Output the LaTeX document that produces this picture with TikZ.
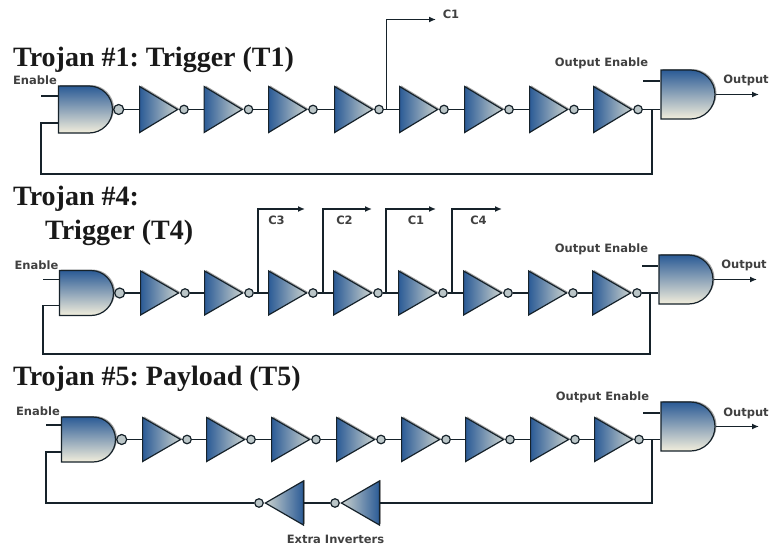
\documentclass[tikz,border=0pt]{standalone}
\usepackage{fontspec}
\setmainfont{Liberation Serif}
\newfontfamily\labelfont{DejaVu Sans}
\usepackage{tikz}
\usetikzlibrary{arrows.meta}
\usetikzlibrary{positioning}
\usetikzlibrary{shapes.geometric}
\usetikzlibrary{shapes.misc}
\usetikzlibrary{shadows}

\definecolor{gatedark}{HTML}{2B5B96}
\definecolor{gatelight}{HTML}{F2EEDC}
\definecolor{invlight}{HTML}{CBD2CE}
\definecolor{wirecol}{HTML}{16222A}

\tikzset{
    softshadow/.style={general shadow={shadow xshift=1.5pt, shadow yshift=1pt, fill=black!70, opacity=0.5}},
    invbox/.style={isosceles triangle, isosceles triangle stretches, draw=wirecol, line width=1.2pt,
        inner sep=0pt, minimum height=38pt, minimum width=#1, softshadow, left color=gatedark, right color=invlight},
    invbox/.default=46pt,
    bubble/.style={circle, draw=wirecol, line width=1.2pt, fill=invlight!90!gatedark, inner sep=0pt, minimum size=8.5pt},
    gatebox/.style={rounded rectangle, rounded rectangle left arc=none, draw=wirecol, line width=1.2pt, inner sep=0pt,
        minimum height=#1, minimum width=54pt, softshadow, top color=gatedark, bottom color=gatelight},
    wire/.style={draw=wirecol, line width=1.5pt},
    tap/.style={wire, -{Latex[length=7pt,width=6pt]}},
    title/.style={font=\frenchspacing\fontsize{28}{30}\selectfont\bfseries, inner sep=0pt, anchor=west, text=black!90},
    tag/.style={font=\labelfont\fontsize{11.5}{13}\selectfont\bfseries, inner sep=0pt, text=black!75},
}

\begin{document}
\begin{tikzpicture}[x=1pt,y=-1pt]
    \useasboundingbox (0,0) rectangle (769,546);

    % first row
    \node[title] (titleA) at (13,60) {Trojan \#1: Trigger (T1)};
    \node[tag] (enableA) at (35,80) {Enable};
    \node[gatebox=47pt] (nandA) at (85.5,109.5) {};
    \node[bubble, minimum size=10pt, right=0pt of nandA.east] (nandbubA) {};
    \foreach \x [count=\i] in {139,203.5,268,334,399,464,529,593} {
        \node[invbox, anchor=lower side] (invA\i) at (\x,109.5) {};
        \node[bubble, right=0pt of invA\i.apex] (bubA\i) {};
    }
    \foreach \i [count=\j from 2] in {1,...,7} {
        \draw[wire] (bubA\i) -- (invA\j.lower side);
    }
    \draw[wire] (nandbubA) -- (invA1.lower side);
    \node[gatebox=49pt] (andA) at (688,94.5) {};
    \coordinate (inA) at (41,96);
    \coordinate (fbA) at (41,123);
    \coordinate (backA) at (41,174);
    \coordinate (joinA) at (652,174);
    \coordinate (oeA) at (643,81);
    \coordinate (tapA) at (386.5,19.5);
    \coordinate (tapendA) at (436,19.5);
    \coordinate (outA) at (759,94.5);
    \draw[wire] (bubA8) -- (bubA8 -| andA.west);
    \draw[wire] (inA) -- (inA -| nandA.west);
    \draw[wire] (fbA -| nandA.west) -- (fbA) -- (backA) -- (joinA) -- (bubA8 -| joinA);
    \draw[wire] (oeA) -- (oeA -| andA.west);
    \draw[tap] (andA.east) -- (outA);
    \draw[tap] (bubA4 -| tapA) -- (tapA) -- (tapendA);
    \node[tag] (cA) at (451,14) {C1};
    \node[tag] (oetagA) at (601.5,63) {Output Enable};
    \node[tag] (outtagA) at (746,80) {Output};

    % second row
    \node[title] (titleB) at (13,199) {Trojan \#4:};
    \node[title] (titleBB) at (45,233) {Trigger (T4)};
    \node[tag] (enableB) at (36.5,265) {Enable};
    \node[gatebox=45pt] (nandB) at (86.5,293) {};
    \node[bubble, minimum size=10pt, right=0pt of nandB.east] (nandbubB) {};
    \foreach \x [count=\i] in {140,204,268,333,398,463,528,592} {
        \node[invbox=44pt, anchor=lower side] (invB\i) at (\x,293) {};
        \node[bubble, right=0pt of invB\i.apex] (bubB\i) {};
    }
    \foreach \i [count=\j from 2] in {1,...,7} {
        \draw[wire] (bubB\i) -- (invB\j.lower side);
    }
    \draw[wire] (nandbubB) -- (invB1.lower side);
    \node[gatebox=49pt] (andB) at (686,279.5) {};
    \coordinate (inB) at (43,279.5);
    \coordinate (fbB) at (43,305.5);
    \coordinate (backB) at (43,354);
    \coordinate (joinB) at (650,354);
    \coordinate (oeB) at (642,266);
    \coordinate (outB) at (757,279.5);
    \draw[wire] (bubB8) -- (bubB8 -| andB.west);
    \draw[wire] (inB) -- (inB -| nandB.west);
    \draw[wire] (fbB -| nandB.west) -- (fbB) -- (backB) -- (joinB) -- (bubB8 -| joinB);
    \draw[wire] (oeB) -- (oeB -| andB.west);
    \draw[tap] (andB.east) -- (outB);
    \foreach \x/\xend/\nm in {258/305/a,323/372/b,386/436/c,452/502/d} {
        \coordinate (tap\nm) at (\x,209);
        \coordinate (tapend\nm) at (\xend,209);
        \draw[tap] (bubB1 -| tap\nm) -- (tap\nm) -- (tapend\nm);
    }
    \node[tag] (cB3) at (276.5,220) {C3};
    \node[tag] (cB2) at (344.5,220) {C2};
    \node[tag] (cB1) at (416,220) {C1};
    \node[tag] (cB4) at (478.5,220) {C4};
    \node[tag] (oetagB) at (601.5,249) {Output Enable};
    \node[tag] (outtagB) at (744,265) {Output};

    % third row
    \node[title] (titleC) at (13,379) {Trojan \#5: Payload (T5)};
    \node[tag] (enableC) at (38,411) {Enable};
    \node[gatebox=45pt] (nandC) at (88.5,439.5) {};
    \node[bubble, minimum size=10pt, right=0pt of nandC.east] (nandbubC) {};
    \foreach \x [count=\i] in {142,206,271,336,401,465,530,594} {
        \node[invbox=44pt, anchor=lower side] (invC\i) at (\x,439.5) {};
        \node[bubble, right=0pt of invC\i.apex] (bubC\i) {};
    }
    \foreach \i [count=\j from 2] in {1,...,7} {
        \draw[wire] (bubC\i) -- (invC\j.lower side);
    }
    \draw[wire] (nandbubC) -- (invC1.lower side);
    \node[gatebox=49pt] (andC) at (688,426.5) {};

    % extra inverters on the way back
    \node[invbox=44pt, shape border rotate=180, left color=invlight, right color=gatedark, anchor=lower side] (xinvA) at (380,503) {};
    \node[bubble, left=0pt of xinvA.apex] (xbubA) {};
    \node[invbox=44pt, shape border rotate=180, left color=invlight, right color=gatedark, anchor=lower side] (xinvB) at (304,503) {};
    \node[bubble, left=0pt of xinvB.apex] (xbubB) {};
    \draw[wire] (xbubA) -- (xinvB.lower side);
    \coordinate (inC) at (46,425);
    \coordinate (fbC) at (46,452);
    \coordinate (backC) at (46,503);
    \coordinate (joinC) at (652,503);
    \coordinate (oeC) at (643,413);
    \coordinate (outC) at (759,426.5);
    \draw[wire] (bubC8) -- (bubC8 -| andC.west);
    \draw[wire] (inC) -- (inC -| nandC.west);
    \draw[wire] (fbC -| nandC.west) -- (fbC) -- (backC) -- (xbubB);
    \draw[wire] (xinvA.lower side) -- (joinC) -- (bubC8 -| joinC);
    \draw[wire] (oeC) -- (oeC -| andC.west);
    \draw[tap] (andC.east) -- (outC);
    \node[tag] (oetagC) at (602.5,397) {Output Enable};
    \node[tag] (outtagC) at (746,413) {Output};
    \node[tag] (xtag) at (335.5,539) {Extra Inverters};
\end{tikzpicture}
\end{document}
